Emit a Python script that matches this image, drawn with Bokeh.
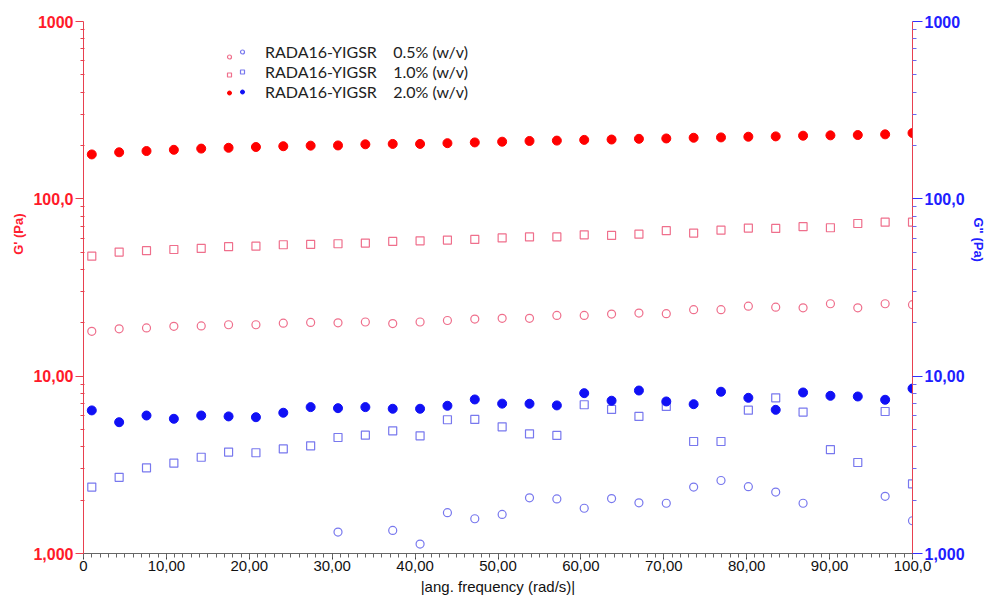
from bokeh.plotting import figure
from bokeh.models import LogAxis, FixedTicker, Legend, LegendItem, Title
from bokeh.core.properties import value
from bokeh.embed import file_html
from bokeh.resources import INLINE

nan = float("nan")

# angular frequency (rad/s)
freq = [1.0, 4.3, 7.6, 10.9, 14.2, 17.5, 20.8, 24.1, 27.4, 30.7, 34.0, 37.3, 40.6,
        43.9, 47.2, 50.5, 53.8, 57.1, 60.4, 63.7, 67.0, 70.3, 73.6, 76.9, 80.2,
        83.5, 86.8, 90.1, 93.4, 96.7, 100.0]

# G' (Pa) storage modulus
g1_05 = [17.9, 18.5, 18.7, 19.1, 19.2, 19.5, 19.5, 19.9, 20.1, 20.0, 20.2, 19.8, 20.2,
         20.6, 21.0, 21.2, 21.2, 22.0, 22.0, 22.4, 22.7, 22.5, 23.7, 23.7, 24.8,
         24.5, 24.3, 25.6, 24.3, 25.6, 25.3]
g1_10 = [47.5, 50.1, 51.0, 51.8, 52.5, 53.7, 54.1, 55.1, 55.3, 55.8, 56.3, 57.5, 58.0,
         58.5, 59.0, 60.2, 61.0, 61.0, 62.7, 62.2, 63.2, 66.1, 64.1, 66.6, 68.4,
         68.1, 69.7, 68.7, 72.6, 73.9, 73.9]
g1_20 = [178, 183, 186, 189, 192, 194, 196, 198, 199.5, 200, 203, 204, 204,
         206, 208, 210, 212, 213, 215, 216, 218, 219, 221, 222, 224,
         225, 227, 228, 229, 231, 235]

# G'' (Pa) loss modulus
g2_05 = [nan, nan, nan, nan, nan, nan, nan, nan, nan, 1.32, nan, 1.35, 1.13,
         1.70, 1.57, 1.66, 2.06, 2.03, 1.80, 2.04, 1.93, 1.92, 2.37, 2.58, 2.38,
         2.22, 1.92, nan, nan, 2.10, 1.53]
g2_10 = [2.37, 2.69, 3.04, 3.23, 3.49, 3.73, 3.70, 3.89, 4.05, 4.51, 4.65, 4.92, 4.61,
         5.68, 5.70, 5.18, 4.73, 4.63, 6.90, 6.49, 5.93, 6.75, 4.28, 4.28, 6.43,
         7.55, 6.27, 3.85, 3.26, 6.32, 2.47]
g2_20 = [6.41, 5.50, 6.00, 5.75, 6.00, 5.93, 5.87, 6.22, 6.69, 6.60, 6.69, 6.55, 6.55,
         6.81, 7.39, 7.00, 6.99, 6.84, 8.02, 7.27, 8.30, 7.20, 6.95, 8.17, 7.55,
         6.46, 8.09, 7.75, 7.68, 7.36, 8.52]

sample = "RADA16-YIGSR"
concentrations = ["0.5% (w/v)", "1.0% (w/v)", "2.0% (w/v)"]

x_ticks = [0, 10, 20, 30, 40, 50, 60, 70, 80, 90, 100]
x_tick_labels = ["0", "10,00", "20,00", "30,00", "40,00", "50,00", "60,00", "70,00",
                 "80,00", "90,00", "100,0"]
y_ticks = [1, 10, 100, 1000]
y_tick_labels = ["1,000", "10,00", "100,0", "1000"]

RED = "#ff0000"
BLUE = "#1010f5"
PINK = "#ef6f8c"
LBLUE = "#7878ee"
AXRED = "#e8404f"

p = figure(width=990, height=598, x_range=(0, 100), y_range=(1, 1000),
           y_axis_type="log", output_backend="svg", toolbar_location=None,
           min_border_left=83, min_border_right=75, min_border_top=21,
           min_border_bottom=45)
p.outline_line_color = None
p.xgrid.visible = False
p.ygrid.visible = False
p.background_fill_color = "white"

# ---- glyphs
r_r05 = p.scatter(freq, g1_05, marker="circle", size=8, fill_color=None,
                  line_color=PINK, line_width=1.2)
r_r10 = p.scatter(freq, g1_10, marker="square", size=8, fill_color=None,
                  line_color=PINK, line_width=1.2)
r_r20 = p.scatter(freq, g1_20, marker="circle", size=9, fill_color=RED,
                  line_color=RED)
r_b05 = p.scatter(freq, g2_05, marker="circle", size=8, fill_color=None,
                  line_color=LBLUE, line_width=1.2)
r_b10 = p.scatter(freq, g2_10, marker="square", size=8, fill_color=None,
                  line_color=LBLUE, line_width=1.2)
r_b20 = p.scatter(freq, g2_20, marker="circle", size=9, fill_color=BLUE,
                  line_color=BLUE)

TICKFONT = "Liberation Sans"
minor_x = list(range(0, 101))
minor_y = [m * 10 ** k for k in range(3) for m in range(2, 10)]

# ---- x axis
xa = p.xaxis[0]
xa.ticker = FixedTicker(ticks=x_ticks, minor_ticks=minor_x)
xa.major_label_overrides = dict(zip(x_ticks, x_tick_labels))
xa.axis_label = "|ang. frequency (rad/s)|"
xa.axis_label_text_font = TICKFONT
xa.axis_label_text_font_style = "normal"
xa.axis_label_text_font_size = "15px"
xa.axis_label_text_color = "#111111"
xa.axis_label_standoff = 4
xa.major_label_text_font = TICKFONT
xa.major_label_text_font_size = "15px"
xa.major_label_text_color = "#111111"
xa.major_label_standoff = 1
xa.axis_line_color = "#666666"
xa.major_tick_line_color = "#444444"
xa.minor_tick_line_color = "#666666"
xa.major_tick_out = 6
xa.major_tick_in = 0
xa.minor_tick_out = 4
xa.minor_tick_in = 0

# ---- left axis
ya = p.yaxis[0]
ya.ticker = FixedTicker(ticks=y_ticks, minor_ticks=minor_y)
ya.major_label_overrides = dict(zip(y_ticks, y_tick_labels))
ya.major_label_text_font = TICKFONT
ya.major_label_text_font_size = "16px"
ya.major_label_text_font_style = "bold"
ya.major_label_text_color = "#ff1a2a"
ya.major_label_standoff = 2
ya.axis_line_color = AXRED
ya.major_tick_line_color = AXRED
ya.minor_tick_line_color = AXRED
ya.major_tick_out = 8
ya.major_tick_in = 0
ya.minor_tick_out = 3
ya.minor_tick_in = 1

# ---- right axis
ra = LogAxis(ticker=FixedTicker(ticks=y_ticks, minor_ticks=minor_y),
             major_label_overrides=dict(zip(y_ticks, y_tick_labels)))
ra.major_label_text_font = TICKFONT
ra.major_label_text_font_size = "16px"
ra.major_label_text_font_style = "bold"
ra.major_label_text_color = "#2020ff"
ra.major_label_standoff = 2
ra.axis_line_color = AXRED
ra.major_tick_line_color = "#3030ff"
ra.minor_tick_line_color = "#6a6af0"
ra.major_tick_out = 10
ra.major_tick_in = 0
ra.minor_tick_out = 4
ra.minor_tick_in = 0
p.add_layout(ra, "right")

# ---- axis titles
p.add_layout(Title(text="G' (Pa)", text_color="#ff2030", text_font=TICKFONT,
                   text_font_size="13px", text_font_style="bold", align="right",
                   offset=192, standoff=10), "left")
p.add_layout(Title(text='G" (Pa)', text_color="#2020ff", text_font=TICKFONT,
                   text_font_size="13px", text_font_style="bold", align="left",
                   offset=196, standoff=6), "right")

# ---- legends (two marker columns side by side)
labels = [sample + "\u00a0\u00a0\u00a0\u00a0" + c for c in concentrations]
leg_red = Legend(items=[LegendItem(label=value(" "), renderers=[r])
                        for r in (r_r05, r_r10, r_r20)], location=(141, 452))
leg_blue = Legend(items=[LegendItem(label=value(t), renderers=[r])
                         for t, r in zip(labels, (r_b05, r_b10, r_b20))],
                  location=(154, 452))
for lg in (leg_red, leg_blue):
    lg.glyph_width = 10
    lg.glyph_height = 17
    lg.label_height = 17
    lg.spacing = 1
    lg.padding = 0
    lg.margin = 0
    lg.border_line_color = None
    lg.background_fill_alpha = 0
    lg.label_text_font = "Lato"
    lg.label_text_font_size = "16px"
    lg.label_text_color = "#222222"
    lg.label_text_baseline = "middle"
leg_red.label_standoff = 0
leg_red.label_width = 0
leg_blue.label_standoff = 18
p.add_layout(leg_red)
p.add_layout(leg_blue)

open("out.html", "w").write(file_html(p, INLINE))
